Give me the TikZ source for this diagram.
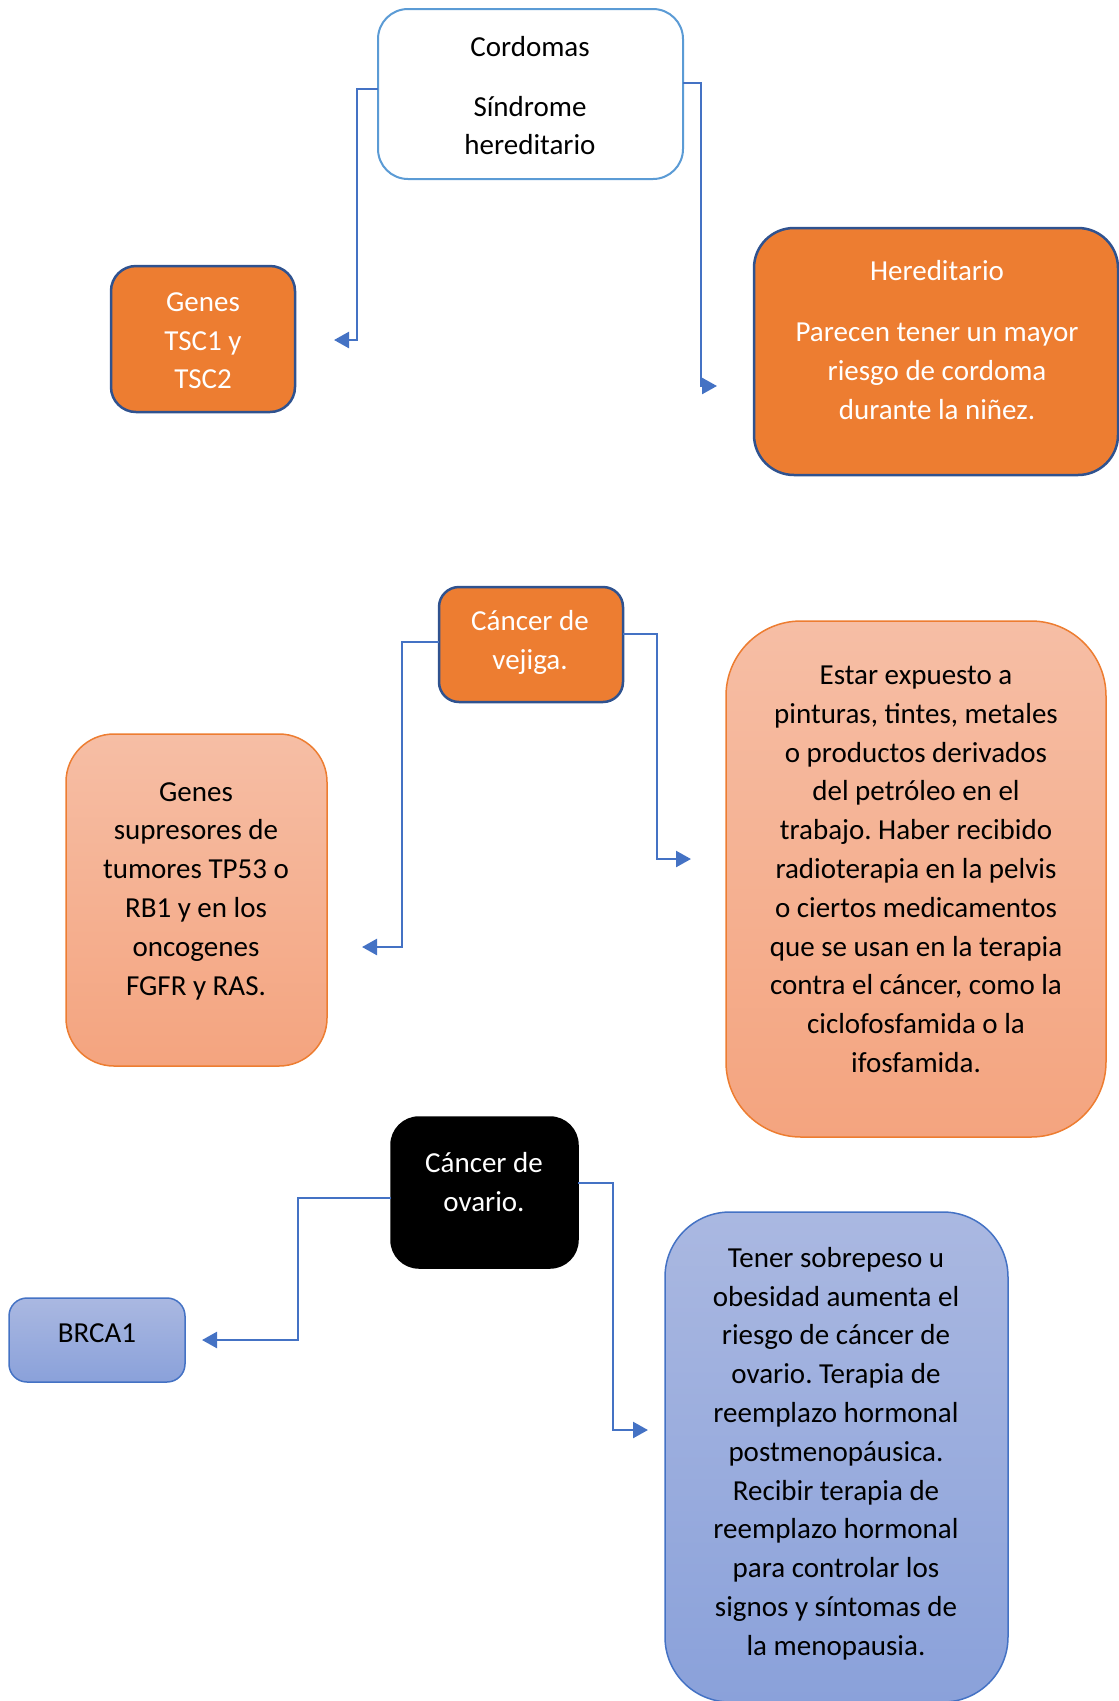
\documentclass[tikz,border=0pt]{standalone}
\usepackage{fontspec}
\setmainfont{Carlito}
\frenchspacing
\usetikzlibrary{arrows.meta}
\definecolor{orng}{HTML}{ED7D31}
\definecolor{dkblue}{HTML}{2F528F}
\definecolor{ltblue}{HTML}{5B9BD5}
\definecolor{connblue}{HTML}{4472C4}
\definecolor{salmontop}{HTML}{F6BEA5}
\definecolor{salmonbot}{HTML}{F4A47F}
\definecolor{bluetop}{HTML}{AAB8E1}
\definecolor{bluebot}{HTML}{8AA1DA}
\tikzset{
  boxbase/.style={rectangle, inner sep=0pt, outer sep=0pt},
  txt/.style={align=center, inner sep=0pt, font=\fontsize{29}{38.8}\selectfont\frenchspacing,
    execute at begin node=\strut, execute at end node=\strut},
  orangebox/.style={boxbase, fill=orng, draw=dkblue, line width=2.5pt},
  salmonbox/.style={boxbase, top color=salmontop, bottom color=salmonbot, draw=orng, line width=1.5pt},
  bluebox/.style={boxbase, top color=bluetop, bottom color=bluebot, draw=connblue, line width=1.5pt},
  conn/.style={draw=connblue, line width=2.5pt, -{Triangle[length=15pt,width=16pt]}},
}
\begin{document}
\begin{tikzpicture}[x=1pt,y=-1pt]
\useasboundingbox (0,0) rectangle (1119,1701);
% boxes
\node[boxbase, fill=white, draw=ltblue, line width=2pt, rounded corners=30pt,
  minimum width=305pt, minimum height=170pt] (cord) at (530.5,94) {};
\node[orangebox, rounded corners=25pt, minimum width=184pt, minimum height=146pt] (tsc) at (203,339) {};
\node[orangebox, rounded corners=40pt, minimum width=364pt, minimum height=247pt] (her) at (936,351.5) {};
\node[orangebox, rounded corners=20pt, minimum width=184pt, minimum height=115pt] (vej) at (531,644.5) {};
\node[salmonbox, rounded corners=48pt, minimum width=261pt, minimum height=332pt] (sup) at (196.5,900) {};
\node[salmonbox, rounded corners=75pt, minimum width=380pt, minimum height=516pt] (est) at (916,879) {};
\node[boxbase, fill=black, draw=black, line width=1.5pt, rounded corners=28pt,
  minimum width=187pt, minimum height=151pt] (ova) at (484.5,1192.5) {};
\node[bluebox, rounded corners=18pt, minimum width=176pt, minimum height=84pt] (brca) at (97,1340) {};
\node[bluebox, rounded corners=65pt, minimum width=343pt, minimum height=490pt] (ten) at (836.5,1457) {};
% texts
\node[txt] (tcord) at (530,101.5) {Cordomas\\[20.5pt]Síndrome\\hereditario};
\node[txt, text=white] (ttsc) at (203,346.5) {Genes\\TSC1 y\\TSC2};
\node[txt, text=white] (ther) at (937,345.5) {Hereditario\\[22.5pt]Parecen tener un mayor\\riesgo de cordoma\\durante la niñez.};
\node[txt, text=white] (tvej) at (530,645.5) {Cáncer de\\vejiga.};
\node[txt] (tsup) at (196,894.5) {Genes\\supresores de\\tumores TP53 o\\RB1 y en los\\oncogenes\\FGFR y RAS.};
\node[txt] (test) at (916,875) {Estar expuesto a\\pinturas, tintes, metales\\o productos derivados\\del petróleo en el\\trabajo. Haber recibido\\radioterapia en la pelvis\\o ciertos medicamentos\\que se usan en la terapia\\contra el cáncer, como la\\ciclofosfamida o la\\ifosfamida.};
\node[txt, text=white] (tova) at (484,1187.5) {Cáncer de\\ovario.};
\node[txt] (tbrca) at (97,1335) {BRCA1};
\node[txt] (tten) at (836,1457) {Tener sobrepeso u\\obesidad aumenta el\\riesgo de cáncer de\\ovario. Terapia de\\reemplazo hormonal\\postmenopáusica.\\Recibir terapia de\\reemplazo hormonal\\para controlar los\\signos y síntomas de\\la menopausia.};
% arrow end points
\coordinate (a1) at (334,340);
\coordinate (a2) at (717,386);
\coordinate (a3) at (362,947);
\coordinate (a4) at (691,859);
\coordinate (a5) at (202,1340);
\coordinate (a6) at (648,1430);
% connectors
\draw[conn] ([yshift=5pt]cord.west) -- ++(-21,0) |- (a1);
\draw[conn] ([yshift=11pt]cord.east) -- ++(18,0) |- (a2);
\draw[conn] ([yshift=2.5pt]vej.west) -- ++(-37,0) |- (a3);
\draw[conn] ([yshift=10.5pt]vej.east) -- ++(34,0) |- (a4);
\draw[conn] ([yshift=-5.5pt]ova.west) -- ++(-93,0) |- (a5);
\draw[conn] ([yshift=9.5pt]ova.east) -- ++(35,0) |- (a6);
\end{tikzpicture}
\end{document}
